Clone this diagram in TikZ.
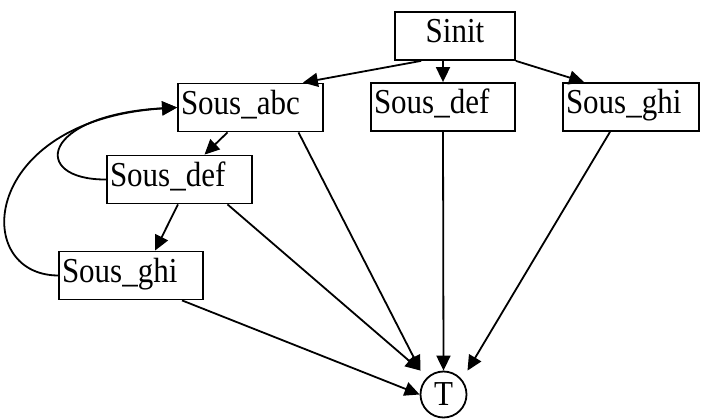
\documentclass[tikz,border=0pt]{standalone}
\usepackage{fontspec}
\usepackage{graphicx}
\setmainfont{Liberation Serif}
\usetikzlibrary{arrows.meta}
\newcommand\tall[1]{\scalebox{1}[1.13]{#1}}

\begin{document}
\begin{tikzpicture}[x=1pt,y=-1pt,font=\fontsize{31}{36}\selectfont,
box/.style={draw,line width=1.8pt,inner xsep=3pt,inner ysep=0pt,minimum height=48pt,text height=21pt,text depth=7pt,align=left},
arr/.style={-{Triangle[length=15pt,width=14pt]},line width=1.8pt}]
\useasboundingbox (0,0) rectangle (701,419);
\node[box,text width=114pt,align=center] (init) at (455,36) {\tall{Sinit}};
\node[box,text width=139pt] (abc) at (250.5,107.5) {\tall{Sous\_abc}};
\node[box,text width=138pt] (def2) at (443,107) {\tall{Sous\_def}};
\node[box,text width=130pt] (ghi2) at (631,107) {\tall{Sous\_ghi}};
\node[box,text width=139pt] (def1) at (179.5,179.5) {\tall{Sous\_def}};
\node[box,text width=138pt] (ghi1) at (131,275.5) {\tall{Sous\_ghi}};
\node[draw,circle,line width=1.8pt,minimum size=46pt,inner sep=0pt] (t) at (443.5,394.5) {\tall{T}};
\draw[arr] ([xshift=27pt]init.south west)--([xshift=-21pt]abc.north east);
\draw[arr] (def2.north |- init.south)--(def2.north);
\draw[arr] (init.south east)--([xshift=22pt]ghi2.north west);
\draw[arr] ([xshift=-23pt]abc.south)--([xshift=25pt]def1.north);
\draw[arr] ([xshift=-1.5pt]def1.south)--([xshift=24pt]ghi1.north);
\draw[arr] (def1.west) .. controls (30,180) and (40,115) .. (abc.west);
\draw[arr] (ghi1.west) .. controls (-30,275) and (-20,120) .. (abc.west);
\draw[arr] ([xshift=48pt]abc.south)--([xshift=-23pt]t.north);
\draw[arr] ([xshift=48pt]def1.south)--([xshift=-23pt]t.north);
\draw[arr] (def2.south)--(t.north);
\draw[arr] ([xshift=-21pt]ghi2.south)--([xshift=24pt]t.north);
\draw[arr] ([xshift=51pt]ghi1.south)--(t.west);
\end{tikzpicture}
\end{document}
